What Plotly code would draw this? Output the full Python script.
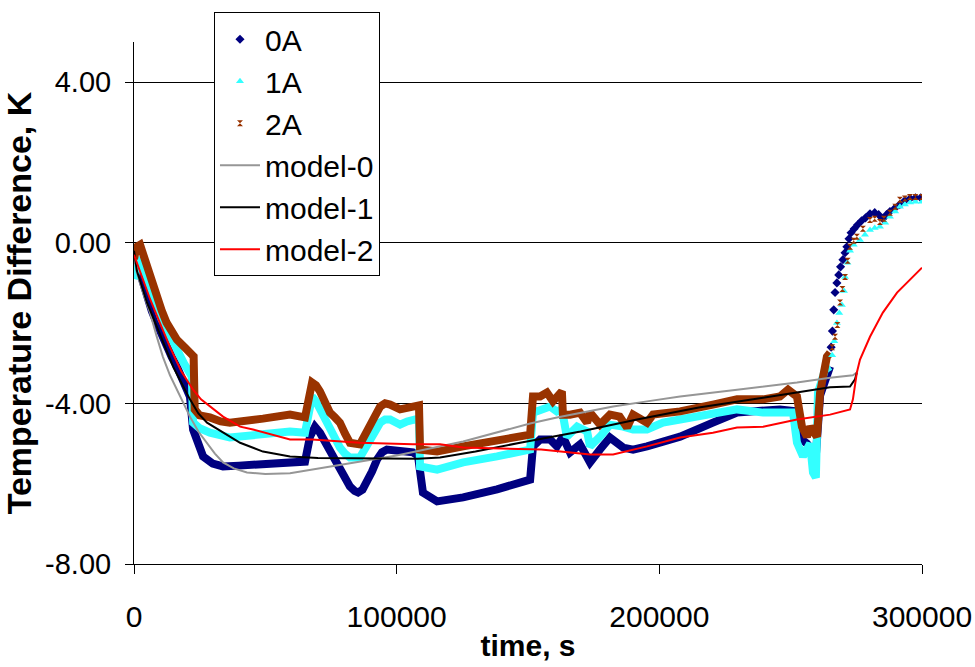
import plotly.graph_objects as go

# ---------------- data (time in s, temperature difference in K) ----------------
# 0A measured (dense part)
t_0a = [0, 1200, 2300, 3700, 5000, 6800, 8600, 10500, 12500, 14400, 16300, 19000, 21300, 22500,
        24300, 26300, 30000, 33900, 40000, 49100, 59400, 65100, 67000, 68900, 70800, 72700, 74600,
        76500, 78400, 80300, 82200, 84000, 85300, 87000, 88700, 90600, 92500, 94400, 96300, 101300,
        106200, 108100, 110000, 115400, 125300, 138200, 150800, 151900, 154600, 158400, 161000,
        163300, 166000, 169800, 172500, 173600, 177400, 181200, 186200, 190000, 195300, 207900,
        220400, 229600, 245900, 252400, 254300, 256200, 259600, 261200, 265000]
v_0a = [-0.5, -0.85, -0.75, -1.1, -1.4, -1.7, -1.99, -2.3, -2.6, -2.85, -3.08, -3.45, -3.83, -4.65,
        -5.05, -5.32, -5.5, -5.57, -5.55, -5.52, -5.45, -5.45, -4.83, -4.58, -4.73, -4.95, -5.22,
        -5.45, -5.65, -5.9, -6.07, -6.18, -6.22, -6.15, -5.97, -5.7, -5.4, -5.22, -5.15, -5.2,
        -5.22, -5.3, -6.22, -6.44, -6.34, -6.14, -5.9, -5.07, -4.9, -4.9, -5.07,
        -4.83, -5.22, -5.02, -5.4, -5.47, -5.15, -4.85, -5.1, -5.15, -5.07, -4.83,
        -4.48, -4.23, -4.15, -4.2, -4.9, -5.0, -5.3, -3.8, -3.08]
# 0A measured (sparse rise)
t_0a_s = [265400, 265900, 266400, 266900, 267600, 268300, 269000, 269900, 270700, 271400, 272200,
          273000, 274200, 275500, 277000, 278500, 280200, 282000, 283500, 285100, 286500, 287800,
          289500, 291500, 293500, 295500, 297500, 299500]
v_0a_s = [-2.6, -2.2, -1.67, -1.24, -1.0, -0.8, -0.6, -0.42, -0.25, -0.1, 0.1,
          0.25, 0.35, 0.45, 0.55, 0.62, 0.72, 0.75, 0.7, 0.6, 0.7, 0.78,
          0.85, 0.95, 1.05, 1.1, 1.12, 1.12]

# 1A measured (dense part)
t_1a = [0, 1100, 2300, 3500, 5000, 6800, 8600, 10500, 12500, 14400, 16300, 19000, 22000, 22500,
        25000, 28900, 36500, 49100, 59400, 65100, 67800, 69300, 70800, 72700, 74600, 76500, 78400,
        80300, 82200, 86000, 88000, 89800, 91800, 93700, 95600, 97500, 101300, 104000, 107000,
        108500, 108900, 115400, 125300, 138200, 150800, 151900, 154600, 158400, 161000, 162900,
        164800, 168700, 172500, 173600, 177400, 181200, 186200, 190000, 195300, 201400, 207900,
        220400, 229600, 239500, 250900, 252400, 254700, 257400, 258500, 259600, 260400, 263100,
        265000]
v_1a = [-0.9, -0.67, -0.37, -0.6, -0.9, -1.25, -1.59, -1.9, -2.15, -2.42, -2.66, -3.0, -3.33, -4.48,
        -4.62, -4.73, -4.85, -4.78, -4.7, -4.73, -3.83, -3.95, -4.15, -4.4, -4.65, -4.9, -5.1,
        -5.25, -5.35, -5.35, -5.15, -4.98, -4.7, -4.48, -4.4, -4.4, -4.53, -4.45, -4.4,
        -4.45, -5.57, -5.65, -5.47, -5.32, -5.15, -4.23, -4.15, -4.08, -4.2, -4.15,
        -4.83, -4.58, -4.7, -5.07, -4.83, -4.53, -4.58, -4.65, -4.65, -4.48, -4.4,
        -4.23, -4.15, -4.23, -4.23, -4.98, -5.32, -5.0, -5.72, -5.85, -3.73, -3.16,
        -3.08]
# 1A measured (sparse rise)
t_1a_s = [265800, 266600, 267600, 268500, 269500, 270300, 270700, 271600, 272600, 274000, 276400,
          278300, 280200, 282000, 284000, 286000, 287800, 289800, 291600, 293500, 295500, 297500, 300000]
v_1a_s = [-2.8, -2.45, -2.0, -1.75, -1.55, -1.2, -0.85, -0.5, -0.2, -0.05, 0.07,
          0.2, 0.32, 0.37, 0.4, 0.5, 0.65, 0.78, 0.9, 0.95, 1.0, 1.02, 1.02]

# 2A measured (dense part)
t_2a = [0, 1000, 2300, 3500, 4800, 6600, 8600, 10500, 12400, 14300, 16300, 19400, 21900, 22700,
        23100, 25000, 28900, 33000, 36500, 41500, 49100, 59400, 65100, 67800, 69300, 70800, 72700,
        74600, 76500, 78400, 80300, 82200, 86000, 88000, 89800, 91800, 93700, 95600, 97500, 101300,
        104000, 107000, 108500, 108900, 115400, 125300, 138200, 150800, 151900, 154600, 157200,
        159500, 162900, 163300, 166000, 169800, 172500, 173600, 177400, 181200, 184900, 187700,
        190000, 195300, 197600, 207900, 220400, 229600, 239500, 245900, 249000, 252400, 254300,
        256200, 257400, 258500, 260000, 261200, 263800, 265000]
v_2a = [-0.4, -0.1, -0.05, -0.3, -0.62, -1.0, -1.34, -1.68, -1.99, -2.2, -2.41, -2.61, -2.79, -2.83,
        -4.15, -4.3, -4.35, -4.45, -4.48, -4.45, -4.38, -4.28, -4.35, -3.48, -3.55, -3.7, -3.95,
        -4.23, -4.35, -4.48, -4.75, -4.98, -5.02, -4.8, -4.58, -4.3, -4.08, -4.0, -4.03, -4.15,
        -4.1, -4.08, -4.05, -5.15, -5.2, -5.07, -4.9, -4.78, -3.83, -3.83, -3.73,
        -3.95, -3.7, -4.28, -4.28, -4.23, -4.48, -4.23, -4.53, -4.28, -4.33, -4.6,
        -4.28, -4.48, -4.28, -4.2, -4.03, -3.9, -3.9, -3.83, -3.66, -3.83, -4.58,
        -4.83, -4.58, -4.7, -4.83, -3.73, -2.84, -2.74]
# 2A measured (sparse rise)
t_2a_s = [265800, 266900, 267800, 268800, 269700, 270700, 271700, 272600, 274000, 275200, 277500,
          280200, 282000, 284000, 285500, 287800, 289800, 291600, 293500, 295400, 297500, 300000]
v_2a_s = [-2.6, -2.34, -2.05, -1.49, -1.15, -0.85, -0.45, -0.1, 0.05, 0.15, 0.35,
          0.57, 0.6, 0.52, 0.6, 0.75, 0.9, 1.07, 1.1, 1.14, 1.14, 1.14]

# model curves
t_m0 = [0, 1100, 3500, 6100, 8500, 11000, 13700, 16400, 19000, 21300, 24500, 27800, 30800, 33900,
        38000, 43000, 50000, 59400, 63200, 74600, 100000, 125300, 138200, 150800, 161000, 182400,
        195300, 207900, 229600, 252400, 265000, 273700, 275200]
v_m0 = [-0.3, -0.75, -1.25, -1.74, -2.3, -2.84, -3.3, -3.66, -4.02, -4.33, -4.7, -4.98, -5.25, -5.47,
        -5.62, -5.72, -5.76, -5.74, -5.7, -5.57, -5.3, -4.95, -4.72, -4.5, -4.35, -4.08,
        -3.95, -3.83, -3.66, -3.48, -3.36, -3.3, -3.23]

t_m1 = [0, 1100, 5000, 9900, 15000, 21300, 24500, 27800, 33900, 40400, 49100, 59400, 70000, 90000,
        108000, 116500, 130000, 147000, 170000, 191500, 215000, 239500, 252400, 265000, 272600,
        274500, 275200]
v_m1 = [-0.2, -0.7, -1.5, -2.3, -3.1, -3.9, -4.25, -4.48, -4.73, -4.98, -5.2, -5.32, -5.36, -5.38,
        -5.38, -5.35, -5.2, -4.98, -4.7, -4.4, -4.1, -3.86, -3.73, -3.6, -3.58,
        -3.4, -3.23]

t_m2 = [0, 3000, 6100, 9900, 13700, 18000, 22500, 25500, 28900, 33900, 40400, 45300, 59400, 67800,
        86000, 106200, 116500, 125300, 155000, 173600, 182400, 195300, 207900, 220400, 229600,
        239500, 252400, 265000, 272600, 273700, 275200, 276400, 280200, 285100, 290500, 295400,
        300000]
v_m2 = [-0.3, -0.85, -1.4, -2.0, -2.6, -3.2, -3.66, -3.9, -4.08, -4.33, -4.58, -4.65, -4.9, -4.9,
        -4.98, -5.02, -5.02, -5.1, -5.15, -5.27, -5.27, -5.07, -4.85, -4.73, -4.6,
        -4.58, -4.4, -4.28, -4.15, -3.9, -3.23, -2.91, -2.34, -1.74, -1.24, -0.92,
        -0.62]

y_ticks = [-8, -4, 0, 4]
y_tick_text = ["-8.00", "-4.00", "0.00", "4.00"]
x_ticks = [0, 100000, 200000, 300000]
x_tick_text = ["0", "100000", "200000", "300000"]

# ---------------- styling ----------------
C0, C1, C2 = "#000080", "#33FFFF", "#993300"
CM0, CM1, CM2 = "#969696", "#000000", "#FF0000"
FONT = "Liberation Sans, Arial, sans-serif"

fig = go.Figure()

# dense measured bands (drawn as thick traces)
for t, v, c, name in [(t_0a, v_0a, C0, "0A"),
                      (t_1a, v_1a, C1, "1A"),
                      (t_2a, v_2a, C2, "2A")]:
    fig.add_trace(go.Scatter(x=t, y=v, mode="lines", line=dict(color=c, width=8),
                             showlegend=False, legendgroup=name, hoverinfo="skip"))

# sparse measured markers (legend entries)
for t, v, c, sym, name, sz in [(t_0a_s, v_0a_s, C0, "diamond", "0A", 7),
                               (t_1a_s, v_1a_s, C1, "triangle-up", "1A", 7),
                               (t_2a_s, v_2a_s, C2, "hourglass", "2A", 6)]:
    fig.add_trace(go.Scatter(x=t, y=v, mode="markers", name=name, legendgroup=name,
                             marker=dict(color=c, symbol=sym, size=sz, line=dict(width=0))))

# models
for t, v, c, name in [(t_m0, v_m0, CM0, "model-0"),
                      (t_m1, v_m1, CM1, "model-1"),
                      (t_m2, v_m2, CM2, "model-2")]:
    fig.add_trace(go.Scatter(x=t, y=v, mode="lines", name=name,
                             line=dict(color=c, width=2)))

fig.update_layout(
    width=975, height=667,
    margin=dict(l=134, r=53, t=42, b=103, autoexpand=False),
    paper_bgcolor="white", plot_bgcolor="white",
    font=dict(family=FONT, color="black", size=29),
    legend=dict(x=0.1015, y=1.057, xanchor="left", yanchor="top",
                bgcolor="white", bordercolor="black", borderwidth=1,
                font=dict(size=30, family=FONT), itemwidth=40,
                tracegroupgap=0),
    showlegend=True,
)

fig.update_xaxes(
    range=[0, 300000], tickvals=x_ticks, ticktext=x_tick_text, automargin=False,
    showgrid=False, zeroline=False, showline=True, linecolor="black", linewidth=1,
    ticks="outside", ticklen=9, tickcolor="black",
    ticklabelstandoff=17,
    tickfont=dict(size=30, family=FONT),
    title=dict(text="<b>time, s</b>", font=dict(size=30, family=FONT), standoff=2),
)
fig.update_yaxes(
    range=[-8, 5], tickvals=y_ticks, ticktext=y_tick_text, automargin=False,
    showgrid=True, gridcolor="black", gridwidth=1,
    zeroline=False, showline=True, linecolor="black", linewidth=1,
    ticks="outside", ticklen=8, tickcolor="black",
    ticklabelstandoff=8,
    tickfont=dict(size=29, family=FONT),
    title=dict(text="<b>Temperature Difference, K</b>", font=dict(size=34, family=FONT), standoff=4),
)

fig.write_html("out.html")
